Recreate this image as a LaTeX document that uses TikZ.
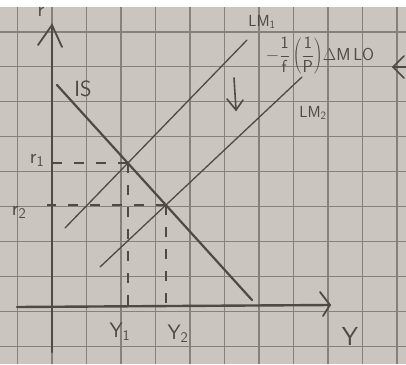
\documentclass[tikz,border=0pt]{standalone}
\usetikzlibrary{intersections,calc}
\definecolor{paper}{RGB}{203,197,191}
\definecolor{gridc}{RGB}{135,129,124}
\definecolor{ink}{RGB}{78,74,70}
\begin{document}
\begin{tikzpicture}[x=1pt,y=-1pt,
  gridline/.style={draw=gridc,line width=1.1pt},
  axisline/.style={draw=ink,line width=2.4pt,line cap=round},
  curve/.style={draw=ink,line width=1.3pt,line cap=round},
  iscurve/.style={draw=ink,line width=2.2pt,line cap=round},
  guide/.style={draw=ink,line width=1.4pt,dash pattern=on 10pt off 12pt},
  lbl/.style={text=ink,font=\sffamily\fontsize{21}{23}\selectfont,inner sep=0pt},
  smalllbl/.style={text=ink,font=\sffamily\fontsize{16}{18}\selectfont,inner sep=0pt}]
\useasboundingbox (0,0) rectangle (406,364);
\fill[paper] (0,0) rectangle (406,364);
\fill[white] (0,0) rectangle (406,7);
\foreach \i in {0,...,11} \draw[gridline] ({17.5+34.5*\i},7) -- ({17.5+34.5*\i},364);
\foreach \j in {0,...,9} \draw[gridline] (0,{32+34.9*\j}) -- (406,{32+34.9*\j});
% axes
\coordinate (ytop) at (52,25);
\coordinate (ybot) at (52,352);
\coordinate (xleft) at (17,307);
\coordinate (xright) at (330,305);
\coordinate (yarmL) at (38,45);
\coordinate (yarmR) at (62,47);
\coordinate (xarmU) at (320,292);
\coordinate (xarmD) at (323,316);
\draw[axisline] (ybot) -- (ytop);
\draw[axisline] (xleft) -- (xright);
\draw[curve,line width=1.8pt] (yarmL) -- (ytop) -- (yarmR);
\draw[curve,line width=1.8pt] (xarmU) -- (xright) -- (xarmD);
% curves
\coordinate (is1) at (57,85);
\coordinate (is2) at (252,300);
\coordinate (lma) at (65,228);
\coordinate (lmb) at (247,40);
\coordinate (lmc) at (100,267);
\coordinate (lmd) at (302,77);
\draw[iscurve,name path=IS] (is1) -- (is2);
\draw[curve,name path=LMone] (lma) -- (lmb);
\draw[curve,name path=LMtwo] (lmc) -- (lmd);
\path[name intersections={of=IS and LMone,by=E1}];
\path[name intersections={of=IS and LMtwo,by=E2}];
\draw[guide] (E1) -- (E1 -| ytop);
\draw[guide] (E1) -- (E1 |- xleft);
\draw[guide] (E2) -- ($(E2 -| ytop)+(-5,0)$);
\draw[guide] (E2) -- (E2 |- xleft);
% shift arrow
\coordinate (dtop) at (234,78);
\coordinate (dbot) at (236,110);
\coordinate (dl) at (227,99);
\coordinate (dr) at (243,100);
\draw[curve,line width=1.6pt] (dtop) -- (dbot);
\draw[curve,line width=1.6pt] (dl) -- (dbot) -- (dr);
% partial arrow at right edge
\coordinate (pa1) at (404,56);
\coordinate (pa2) at (393,67);
\coordinate (pa3) at (404,78);
\coordinate (pa4) at (406,67);
\draw[curve,line width=1.5pt] (pa1) -- (pa2) -- (pa3);
\draw[curve,line width=1.5pt] (pa2) -- (pa4);
% labels
\node[lbl] (r) at (41,12) {r};
\node[lbl,font=\sffamily\fontsize{22}{24}\selectfont] (is) at (83,89) {IS};
\node[lbl] (r1) at (37,160) {r\textsubscript{1}};
\node[lbl] (r2) at (19,212) {r\textsubscript{2}};
\node[lbl] (y1) at (120,332) {Y\textsubscript{1}};
\node[lbl] (y2) at (178,334) {Y\textsubscript{2}};
\node[lbl,font=\sffamily\fontsize{26}{28}\selectfont] (yy) at (350,336) {Y};
\node[smalllbl] (lm1) at (262,22) {LM\textsubscript{1}};
\node[smalllbl] (lm2) at (313,113) {LM\textsubscript{2}};
\node[text=ink,inner sep=0pt,font=\fontsize{19}{21}\selectfont] (shift) at (320,56) {$\displaystyle -\frac{\mathsf{1}}{\mathsf{f}}\left(\frac{\mathsf{1}}{\mathsf{P}}\right)\!\Delta\mathsf{M}\,\mathsf{LO}$};
\end{tikzpicture}
\end{document}
